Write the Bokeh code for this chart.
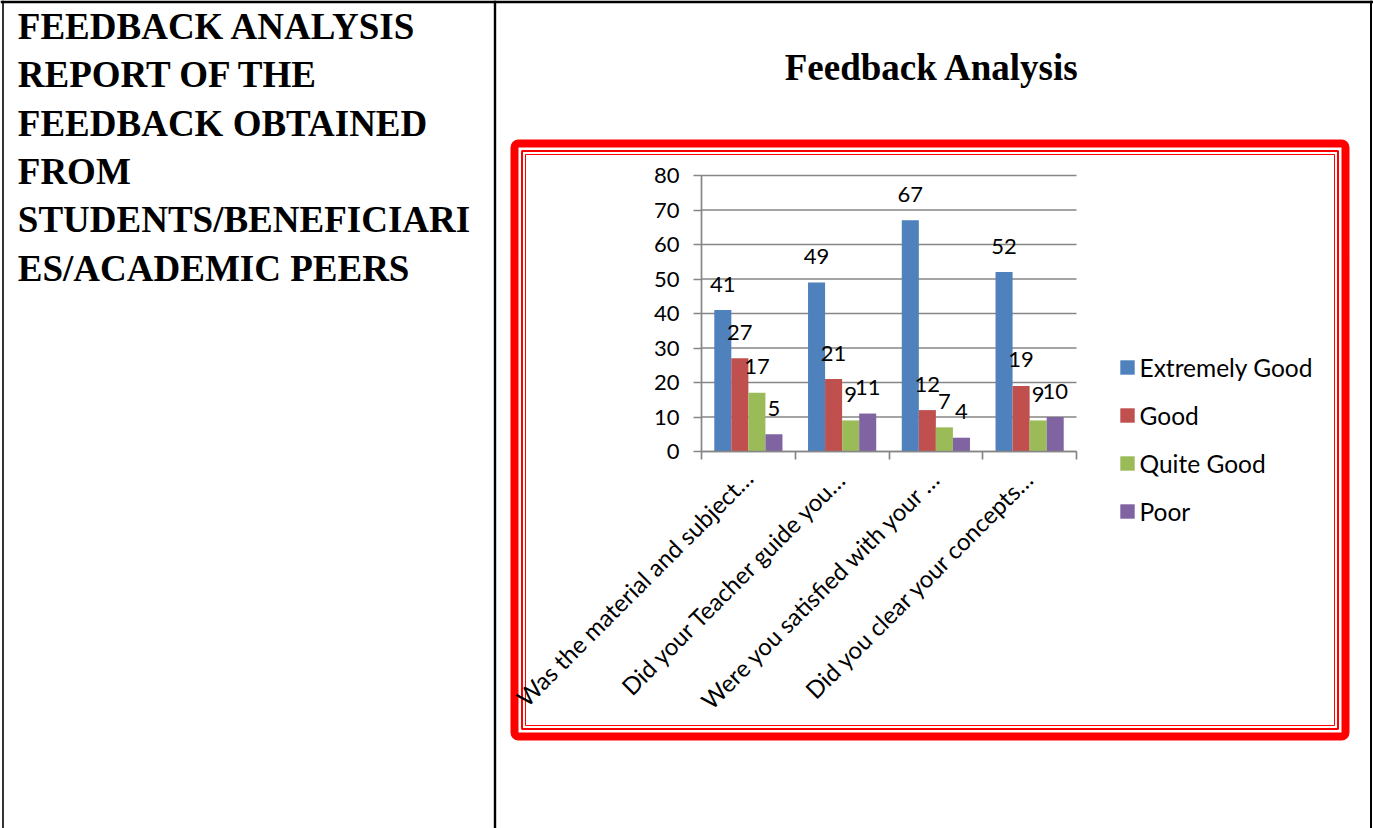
from math import pi
from bokeh.plotting import figure
from bokeh.models import (ColumnDataSource, Range1d, LinearAxis, FixedTicker,
                          Legend, LegendItem)
from bokeh.core.properties import value
from bokeh.embed import file_html
from bokeh.resources import INLINE

# ---------------- data ----------------
questions = ["Was the material and subject\u2026",
             "Did your Teacher guide you\u2026",
             "Were you satisfied with your \u2026",
             "Did you clear your concepts\u2026"]
series = ["Extremely Good", "Good", "Quite Good", "Poor"]
extremely_good = [41, 49, 67, 52]
good = [27, 21, 12, 19]
quite_good = [17, 9, 7, 9]
poor = [5, 11, 4, 10]
y_ticks = [0, 10, 20, 30, 40, 50, 60, 70, 80]
chart_title = "Feedback Analysis"
side_text = ["FEEDBACK ANALYSIS", "REPORT OF THE", "FEEDBACK OBTAINED", "FROM",
             "STUDENTS/BENEFICIARI", "ES/ACADEMIC PEERS"]

colors = ["#4F81BD", "#C0504D", "#9BBB59", "#8064A2"]
GRAY = "#868686"
RED = "#FF0000"
SERIF = "Liberation Serif"
SANS = "Lato"

# ---------------- page layout (pixels) ----------------
W, H = 1373, 828
PL, PR, PT, PB = 701, 1076, 175, 451     # plot area of the chart
N = len(questions)
YMAX = y_ticks[-1]
px_x = (PR - PL) / N
px_y = (PB - PT) / YMAX

p = figure(width=W, height=H, x_range=Range1d(0, W), y_range=Range1d(H, 0),
           output_backend="svg", toolbar_location=None,
           x_axis_type=None, y_axis_type=None, min_border=0,
           background_fill_color="white", border_fill_color="white",
           outline_line_color=None)
# chart scales living inside the page
p.extra_x_ranges = {"cat": Range1d(-PL / px_x, (W - PL) / px_x)}
p.extra_y_ranges = {"val": Range1d(-(H - PB) / px_y, PB / px_y)}

# ---------------- decorations ----------------
# table lines
for l, r, t, b in [(0, W, 0, 2.7), (1.7, 3.3, 0, H), (493.3, 495.7, 0, H), (1369.5, 1371.5, 0, H)]:
    p.quad(left=[l], right=[r], top=[t], bottom=[b], fill_color="black", line_color=None)
# red chart-area frame
p.quad(left=[514], right=[1345], top=[143], bottom=[736], fill_color=None,
       line_color=RED, line_width=8, border_radius=4)
p.quad(left=[521.5], right=[1337.5], top=[150.5], bottom=[728.5], fill_color=None,
       line_color=RED, line_width=2)
p.quad(left=[525], right=[1334], top=[154], bottom=[725], fill_color=None,
       line_color=RED, line_width=1)

# left column text
p.text(x=[17.3] * len(side_text), y=[25.9 + i * 48.33 for i in range(len(side_text))],
       text=side_text, text_font=value(SERIF), text_font_style="bold",
       text_font_size="37px", text_color="black", text_align="left",
       text_baseline="middle")
# chart title
p.text(x=[931.7], y=[66.7], text=[chart_title], text_font=value(SERIF),
       text_font_style="bold", text_font_size="37px", text_color="black",
       text_align="center", text_baseline="middle")

# ---------------- chart ----------------
# horizontal gridlines
p.segment(x0=[0] * len(y_ticks), x1=[N] * len(y_ticks), y0=y_ticks, y1=y_ticks,
          x_range_name="cat", y_range_name="val", line_color=GRAY, line_width=1.7)

yticker = FixedTicker(ticks=y_ticks, minor_ticks=[])
yaxis = LinearAxis(x_range_name="cat", y_range_name="val", fixed_location=0,
                   bounds=(0, YMAX), ticker=yticker,
                   axis_line_color=GRAY, axis_line_width=1.7,
                   major_tick_out=8, major_tick_in=0, major_tick_line_color=GRAY,
                   major_tick_line_width=1.7, minor_tick_line_color=None,
                   major_label_text_font=SANS, major_label_text_font_size="22px",
                   major_label_text_color="black", major_label_standoff=14)
p.add_layout(yaxis, "left")

centers = [i + 0.5 for i in range(N)]
xaxis = LinearAxis(x_range_name="cat", y_range_name="val", fixed_location=0,
                   bounds=(0, N),
                   ticker=FixedTicker(ticks=centers, minor_ticks=list(range(N + 1))),
                   major_label_overrides={c: q for c, q in zip(centers, questions)},
                   major_label_orientation=pi / 4,
                   major_tick_line_color=None, major_tick_out=0, major_tick_in=0,
                   minor_tick_out=8, minor_tick_in=0, minor_tick_line_color=GRAY,
                   minor_tick_line_width=1.7,
                   axis_line_color=GRAY, axis_line_width=1.7,
                   major_label_text_font=SANS, major_label_text_font_size="24px",
                   major_label_text_color="black", major_label_standoff=14)
p.add_layout(xaxis, "below")

bw = 1 / 5.5
offsets = [-1.5 * bw, -0.5 * bw, 0.5 * bw, 1.5 * bw]
all_vals = [extremely_good, good, quite_good, poor]
renderers = []
lx, ly, lt = [], [], []
for name, vals, col, off in zip(series, all_vals, colors, offsets):
    xs = [c + off for c in centers]
    src = ColumnDataSource(dict(x=xs, top=vals))
    r = p.vbar(x="x", top="top", width=bw, source=src, fill_color=col, line_color=None,
               x_range_name="cat", y_range_name="val")
    renderers.append((name, r))
    lx += xs
    ly += vals
    lt += [str(v) for v in vals]

lab_src = ColumnDataSource(dict(x=lx, y=ly, t=lt))
p.text(x="x", y="y", text="t", source=lab_src, text_font=value(SANS),
       text_font_size="22px", text_color="black", text_align="center",
       text_baseline="middle", y_offset=-26, x_range_name="cat", y_range_name="val")

legend = Legend(items=[LegendItem(label=n, renderers=[r]) for n, r in renderers],
                location=(1117.5, H - 525.5),
                orientation="vertical", glyph_width=18, glyph_height=18,
                label_height=18, spacing=19, padding=0, margin=0,
                label_standoff=4, label_text_font=SANS, label_text_font_size="24.5px",
                label_text_color="black", border_line_color=None,
                background_fill_alpha=0)
p.add_layout(legend)

open("out.html", "w").write(file_html(p, INLINE))
